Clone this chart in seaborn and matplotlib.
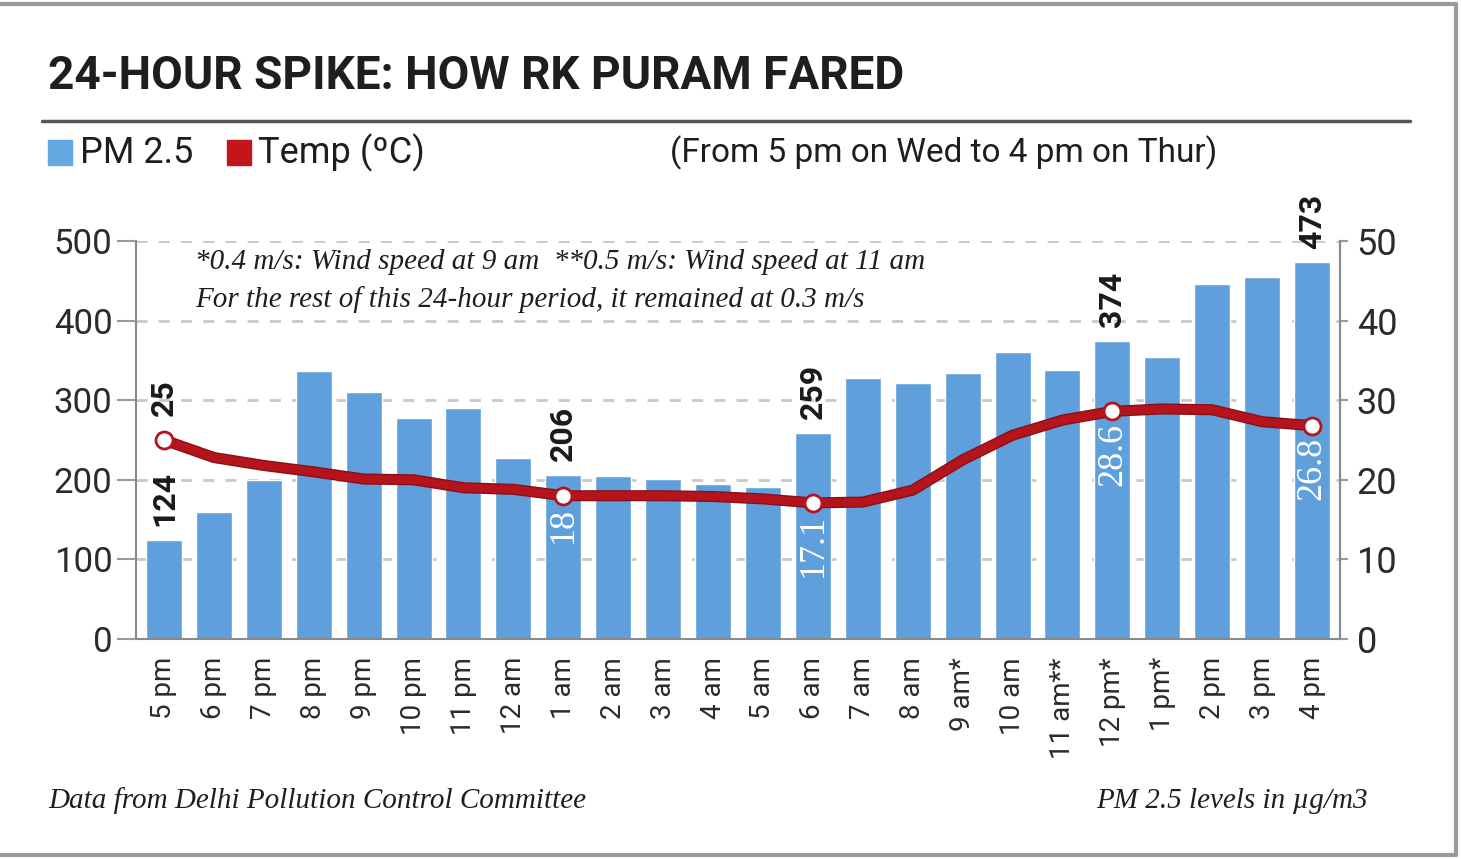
import numpy as np
import pandas as pd
import matplotlib
matplotlib.use("Agg")
import matplotlib.pyplot as plt
import matplotlib.patheffects as pe
from matplotlib import font_manager
from matplotlib.lines import Line2D
from matplotlib.patches import Rectangle
import seaborn as sns

# dados (PM 2.5 em ug/m3 e temperatura em C)
hours = ['5 pm', '6 pm', '7 pm', '8 pm', '9 pm', '10 pm', '11 pm', '12 am',
         '1 am', '2 am', '3 am', '4 am', '5 am', '6 am', '7 am', '8 am',
         '9 am*', '10 am', '11 am**', '12 pm*', '1 pm*', '2 pm', '3 pm', '4 pm']
pm25 = [124, 160, 200, 337, 310, 278, 290, 227, 206, 205, 201, 195,
        191, 259, 328, 322, 334, 361, 338, 374, 354, 446, 455, 473]
temp = [25, 22.8, 21.8, 21, 20.1, 20, 19, 18.8, 18, 18, 18, 17.9,
        17.6, 17.1, 17.2, 18.7, 22.5, 25.6, 27.5, 28.6, 28.9, 28.8, 27.3, 26.8]
temp_labels = ['25', '18', '17.1', '28.6', '26.8']
marked = [0, 8, 13, 19, 23]

BLUE = '#5fa0dc'
RED = '#b5141c'


def pick(fams):
    for f in fams:
        try:
            font_manager.findfont(f, fallback_to_default=False)
            return f
        except ValueError:
            continue
    return 'DejaVu Sans'


sns.set_style("white")
SANS = pick(['Roboto', 'Inter', 'DejaVu Sans'])
NARROW = pick(['Liberation Sans Narrow', 'Roboto', 'DejaVu Sans'])
SERIF = pick(['Liberation Serif', 'DejaVu Serif'])
plt.rcParams['font.family'] = [SANS, 'DejaVu Sans']

W, H = 1461, 859
fig = plt.figure(figsize=(W / 100, H / 100), dpi=100)


def fx(px):
    return px / W


def fy(py):
    return 1 - py / H


df = pd.DataFrame({'hour': hours, 'pm25': pm25, 'temp': temp})

ax = fig.add_axes([fx(136), fy(639), fx(1340) - fx(136), fy(241) - fy(639)])
sns.barplot(data=df, x='hour', y='pm25', order=hours, color=BLUE,
            saturation=1, width=0.72, ax=ax)
ax.set_xlim(-0.56, 23.56)
ax.set_ylim(0, 500)
ax.set_xlabel('')
ax.set_ylabel('')
ax.set_yticks([0, 100, 200, 300, 400, 500])
ax.set_axisbelow(True)
ax.yaxis.grid(True, linestyle=(0, (4, 4)), color='#c9c9c9', lw=2)
ax.spines['top'].set_visible(False)
for s in ['left', 'right', 'bottom']:
    ax.spines[s].set_color('#8a8a8a')
    ax.spines[s].set_linewidth(1.5)
ax.tick_params(axis='y', length=14, width=1.5, color='#9a9a9a', pad=3,
               labelsize=25, labelcolor='#2b2b2b')
ax.tick_params(axis='x', length=7, width=1.2, color='#9a9a9a', pad=6,
               labelsize=20, labelcolor='#2b2b2b', rotation=90)

# valores de PM 2.5 em cima das barras selecionadas
for i in marked:
    ax.annotate(str(pm25[i]), (i, pm25[i]), xytext=(0, 10),
                textcoords='offset points', rotation=90, ha='center',
                va='bottom', fontsize=23, fontweight='bold', color='#1a1a1a')

ax2 = ax.twinx()
ax2.set_ylim(0, 50)
ax2.set_yticks([0, 10, 20, 30, 40, 50])
sns.lineplot(x=np.arange(len(temp)), y=temp, ax=ax2, color=RED, lw=6,
             solid_joinstyle='round', solid_capstyle='round',
             path_effects=[pe.Stroke(linewidth=8, foreground='#8c0f15'), pe.Normal()])
ax2.scatter(marked, [temp[i] for i in marked], s=150, facecolor='white',
            edgecolor=RED, linewidth=2, zorder=5)
ax2.set_xlim(-0.56, 23.56)
ax2.set_ylabel('')
for s in ['top', 'left', 'bottom']:
    ax2.spines[s].set_visible(False)
ax2.spines['right'].set_color('#8a8a8a')
ax2.spines['right'].set_linewidth(1.5)
ax2.tick_params(axis='y', length=6, width=1.5, color='#9a9a9a', pad=6,
                labelsize=26, labelcolor='#2b2b2b')

for k, i in enumerate(marked):
    if k == 0:
        ax2.annotate(temp_labels[k], (i, temp[i]), xytext=(0, 17),
                     textcoords='offset points', rotation=90, ha='center',
                     va='bottom', fontsize=23, fontweight='bold', color='#1a1a1a')
    else:
        ax2.annotate(temp_labels[k], (i, temp[i]), xytext=(0, -8),
                     textcoords='offset points', rotation=90, ha='center',
                     va='top', fontsize=26, family=SERIF, color='white')

# titulo ajustado a largura
title = fig.text(fx(48), fy(89), '24-HOUR SPIKE: HOW RK PURAM FARED',
                 family=[NARROW, 'DejaVu Sans'], fontweight='bold',
                 fontsize=40, color='#1e1e1e', va='baseline', ha='left')
fig.canvas.draw()
tw = title.get_window_extent().width
title.set_fontsize(40 * 855 / tw)

fig.add_artist(Line2D([fx(42), fx(1410)], [fy(121), fy(121)], color='#555555', lw=2.5))

# legenda
fig.add_artist(Rectangle((fx(48), fy(165)), fx(24), fy(140) - fy(165), color='#63a8e0'))
fig.text(fx(80), fy(153), 'PM 2.5', fontsize=26, color='#1e1e1e', va='center')
fig.add_artist(Rectangle((fx(227), fy(165)), fx(24), fy(140) - fy(165), color='#c4151d'))
fig.text(fx(258), fy(153), 'Temp (ºC)', fontsize=26, color='#1e1e1e', va='center')
fig.text(fx(1217), fy(153), '(From 5 pm on Wed to 4 pm on Thur)',
         family=[NARROW, 'DejaVu Sans'], fontsize=24, color='#1e1e1e',
         va='center', ha='right')

fig.text(fx(195), fy(262), '*0.4 m/s: Wind speed at 9 am  **0.5 m/s: Wind speed at 11 am',
         family=SERIF, style='italic', fontsize=21, color='#1e1e1e', va='center')
fig.text(fx(195), fy(300), 'For the rest of this 24-hour period, it remained at 0.3 m/s',
         family=SERIF, style='italic', fontsize=21, color='#1e1e1e', va='center')

fig.text(fx(48), fy(801), 'Data from Delhi Pollution Control Committee',
         family=SERIF, style='italic', fontsize=21, color='#1e1e1e', va='center')
fig.text(fx(1368), fy(801), 'PM 2.5 levels in µg/m3',
         family=SERIF, style='italic', fontsize=21, color='#1e1e1e',
         va='center', ha='right')

# moldura
for xs, ys in [([0, fx(1456)], [fy(4), fy(4)]),
               ([fx(1456), fx(1456)], [fy(4), fy(855)]),
               ([0, fx(1456)], [fy(855), fy(855)])]:
    fig.add_artist(Line2D(xs, ys, color='#9a9a9a', lw=3))

fig.savefig('out.png', dpi=100, facecolor='white')
